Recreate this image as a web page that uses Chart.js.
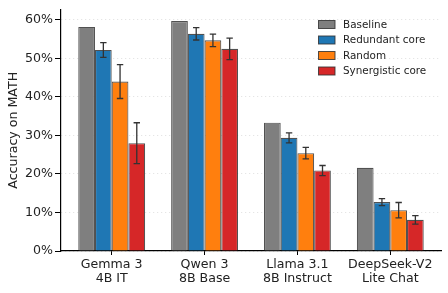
<!DOCTYPE html>
<html>
<head>
<meta charset="utf-8">
<script src="https://cdn.jsdelivr.net/npm/chart.js@4/dist/chart.umd.min.js"></script>
<style>
  html, body { margin: 0; padding: 0; background: #fff; }
  #wrap { width: 448px; height: 293px; }
</style>
</head>
<body>
<div id="wrap"><canvas id="mathChart"></canvas></div>
<script>
// Accuracy on MATH per model (percent)
const CATEGORIES = [['Gemma 3', '4B IT'], ['Qwen 3', '8B Base'], ['Llama 3.1', '8B Instruct'], ['DeepSeek-V2', 'Lite Chat']];
const SERIES = ['Baseline', 'Redundant core', 'Random', 'Synergistic core'];
const COLORS = ['#7f7f7f', '#1f77b4', '#ff7f0e', '#d62728'];

const baseline = [58.2, 59.7, 33.3, 21.6];
const redundant = [52.2, 56.4, 29.4, 12.7];
const random = [44.0, 54.7, 25.4, 10.6];
const synergistic = [28.0, 52.5, 20.9, 8.1];

// error bar half-widths (baseline has none)
const redundantErr = [1.9, 1.6, 1.3, 0.9];
const randomErr = [4.4, 1.6, 1.5, 2.0];
const synergisticErr = [5.3, 2.8, 1.3, 1.1];

const Y_TICKS = [0, 10, 20, 30, 40, 50, 60];

const VALUES = [baseline, redundant, random, synergistic];
const ERRORS = [null, redundantErr, randomErr, synergisticErr];

// Error bars drawn on top of the bars
const errorBars = {
    id: 'errorBars',
    afterDatasetsDraw(chart) {
        const ctx = chart.ctx;
        const y = chart.scales.y;
        ctx.save();
        ctx.strokeStyle = '#333';
        ctx.lineWidth = 1.3;
        chart.data.datasets.forEach((ds, di) => {
            const err = ERRORS[di];
            if (!err) return;
            chart.getDatasetMeta(di).data.forEach((bar, i) => {
                const v = VALUES[di][i];
                const top = y.getPixelForValue(v + err[i]);
                const bot = y.getPixelForValue(v - err[i]);
                ctx.beginPath();
                ctx.moveTo(bar.x, top); ctx.lineTo(bar.x, bot);
                ctx.moveTo(bar.x - 3.2, top); ctx.lineTo(bar.x + 3.2, top);
                ctx.moveTo(bar.x - 3.2, bot); ctx.lineTo(bar.x + 3.2, bot);
                ctx.stroke();
            });
        });
        ctx.restore();
    }
};

// Frameless legend in the upper right corner of the plot
const insideLegend = {
    id: 'insideLegend',
    afterDraw(chart) {
        const ctx = chart.ctx;
        ctx.save();
        ctx.font = '10.4px "DejaVu Sans"';
        ctx.textBaseline = 'middle';
        SERIES.forEach((name, i) => {
            const cy = 24.5 + i * 15.5;
            ctx.fillStyle = COLORS[i];
            ctx.fillRect(318.5, cy - 4, 16.5, 8);
            ctx.strokeStyle = 'rgba(50,50,50,0.85)';
            ctx.lineWidth = 1;
            ctx.strokeRect(318.5, cy - 4, 16.5, 8);
            ctx.fillStyle = '#222';
            ctx.fillText(name, 343, cy + 0.5);
        });
        ctx.restore();
    }
};

new Chart(document.getElementById('mathChart'), {
    type: 'bar',
    data: {
        datasets: SERIES.map((name, di) => ({
            label: name,
            data: VALUES[di].map((v, i) => ({ x: i, y: v })),
            backgroundColor: COLORS[di],
            borderColor: 'rgba(50,50,50,0.85)',
            borderWidth: 1.1,
            categoryPercentage: 0.72,
            barPercentage: 1.0
        }))
    },
    options: {
        responsive: true,
        maintainAspectRatio: false,
        animation: false,
        layout: { padding: { top: 7, right: 7, left: 0, bottom: 0 } },
        plugins: {
            legend: { display: false },
            tooltip: { enabled: false }
        },
        scales: {
            x: {
                type: 'linear',
                min: -0.546,
                max: 3.546,
                offset: false,
                afterBuildTicks(scale) {
                    scale.ticks = CATEGORIES.map((_, i) => ({ value: i }));
                },
                afterFit(scale) { scale.height = 42; },
                grid: { display: true, drawOnChartArea: false, drawTicks: true, tickLength: 4, tickColor: '#000', offset: false },
                border: { display: true, color: '#000', width: 1.2 },
                ticks: {
                    autoSkip: false,
                    maxRotation: 0,
                    padding: 3,
                    color: '#222',
                    font: { family: 'DejaVu Sans', size: 12.6, lineHeight: 1.08 },
                    callback: (value) => CATEGORIES[value]
                }
            },
            y: {
                min: 0,
                max: 62.7,
                afterBuildTicks(scale) {
                    scale.ticks = Y_TICKS.map(v => ({ value: v }));
                },
                afterFit(scale) { scale.width = 61; },
                grid: { color: 'rgba(0,0,0,0.16)', lineWidth: 0.8, tickLength: 6, tickColor: '#000', tickWidth: 1 },
                border: { display: true, color: '#000', width: 1.2, dash: [1, 3] },
                ticks: {
                    padding: 2,
                    color: '#222',
                    font: { family: 'DejaVu Sans', size: 12.6 },
                    callback: (value) => value + '%'
                },
                title: {
                    display: true,
                    text: 'Accuracy on MATH',
                    color: '#222',
                    font: { family: 'DejaVu Sans', size: 12.6 },
                    padding: { top: 6, bottom: 0 }
                }
            }
        }
    },
    plugins: [errorBars, insideLegend]
});
</script>
</body>
</html>
